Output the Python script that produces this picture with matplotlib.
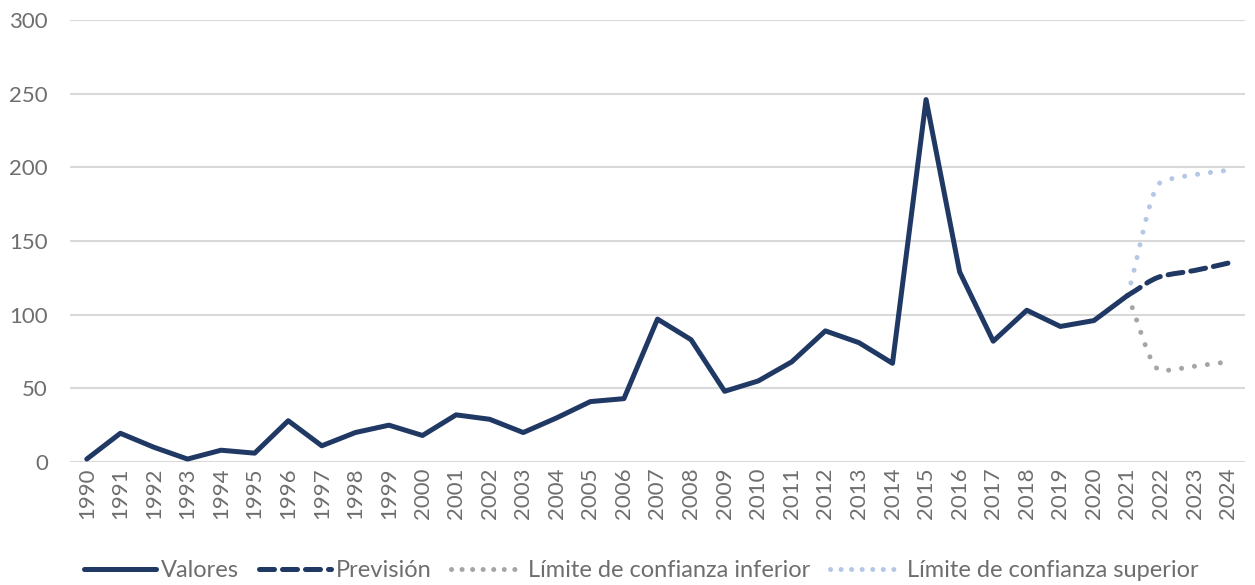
import matplotlib.pyplot as plt
import numpy as np
from matplotlib.path import Path
from matplotlib.patches import PathPatch

years = list(range(1990, 2025))
valores = [2, 19.5, 10, 2, 8, 6, 28, 11, 20, 25, 18, 32, 29, 20, 30, 41, 43,
           97, 83, 48, 55, 68, 89, 81, 67, 246, 129, 82, 103, 92, 96, 113]
fc_years = [2021, 2022, 2023, 2024]
prevision = [113, 126, 130, 135]
lim_inf = [113, 62, 65, 68]
lim_sup = [113, 190, 195, 198]

navy = '#203864'
grey = '#A5A5A5'
lightblue = '#B4C7E7'
txt = '#6E6E6E'
LW = 3.6


def smooth_path(xs, ys):
    # smoothed line through the points (monotone hermite -> bezier)
    x = np.asarray(xs, float)
    y = np.asarray(ys, float)
    h = np.diff(x)
    d = np.diff(y) / h
    m = np.zeros_like(y)
    m[0], m[-1] = d[0], d[-1]
    for i in range(1, len(y) - 1):
        if d[i - 1] * d[i] > 0:
            m[i] = 2 / (1 / d[i - 1] + 1 / d[i])
    verts = [(x[0], y[0])]
    codes = [Path.MOVETO]
    for i in range(len(x) - 1):
        verts += [(x[i] + h[i] / 3, y[i] + m[i] * h[i] / 3),
                  (x[i + 1] - h[i] / 3, y[i + 1] - m[i + 1] * h[i] / 3),
                  (x[i + 1], y[i + 1])]
        codes += [Path.CURVE4] * 3
    return Path(verts, codes)


def add_smooth(ax, xs, ys, color, ls, zorder):
    patch = PathPatch(smooth_path(xs, ys), fill=False, edgecolor=color, lw=LW,
                      linestyle=ls, capstyle='round', zorder=zorder)
    ax.add_patch(patch)


plt.rcParams['font.family'] = ['Lato', 'DejaVu Sans']

fig = plt.figure(figsize=(12.55, 5.85), dpi=100, facecolor='w')
ax = fig.add_axes([70 / 1255, 1 - 462 / 585, 1175 / 1255, 442 / 585])

dash = (0, (3, 1.6))
dot = (0, (0.01, 2.6))

ax.plot(years[:len(valores)], valores, color=navy, lw=LW, solid_joinstyle='round',
        solid_capstyle='round', label='Valores', zorder=4)
add_smooth(ax, fc_years, prevision, navy, dash, 3)
add_smooth(ax, fc_years, lim_inf, grey, dot, 2)
add_smooth(ax, fc_years, lim_sup, lightblue, dot, 2)

# legend entries for the smoothed series
ax.plot([], [], color=navy, lw=LW, ls=dash, dash_capstyle='round', label='Previsión')
ax.plot([], [], color=grey, lw=LW, ls=(0, (0.01, 2.1)), dash_capstyle='round',
        label='Límite de confianza inferior')
ax.plot([], [], color=lightblue, lw=LW, ls=(0, (0.01, 2.1)), dash_capstyle='round',
        label='Límite de confianza superior')

ax.set_ylim(0, 300)
ax.set_yticks(np.arange(0, 301, 50))
ax.set_xlim(1989.5, 2024.5)
ax.set_xticks(years)
ax.set_xticklabels([str(y) for y in years], rotation=90)
ax.grid(axis='y', color='#D9D9D9', lw=1.5)
ax.set_axisbelow(True)
for s in ax.spines.values():
    s.set_visible(False)
ax.tick_params(axis='both', length=0, labelsize=16, colors=txt)
ax.tick_params(axis='y', pad=16)
ax.tick_params(axis='x', pad=4)

leg = fig.legend(loc='lower center', ncol=4, frameon=False, bbox_to_anchor=(0.511, -0.03),
                 handlelength=3.05, handletextpad=0.2, columnspacing=0.85,
                 prop={'size': 17})
for t in leg.get_texts():
    t.set_color(txt)

fig.savefig('out.png', dpi=100)
